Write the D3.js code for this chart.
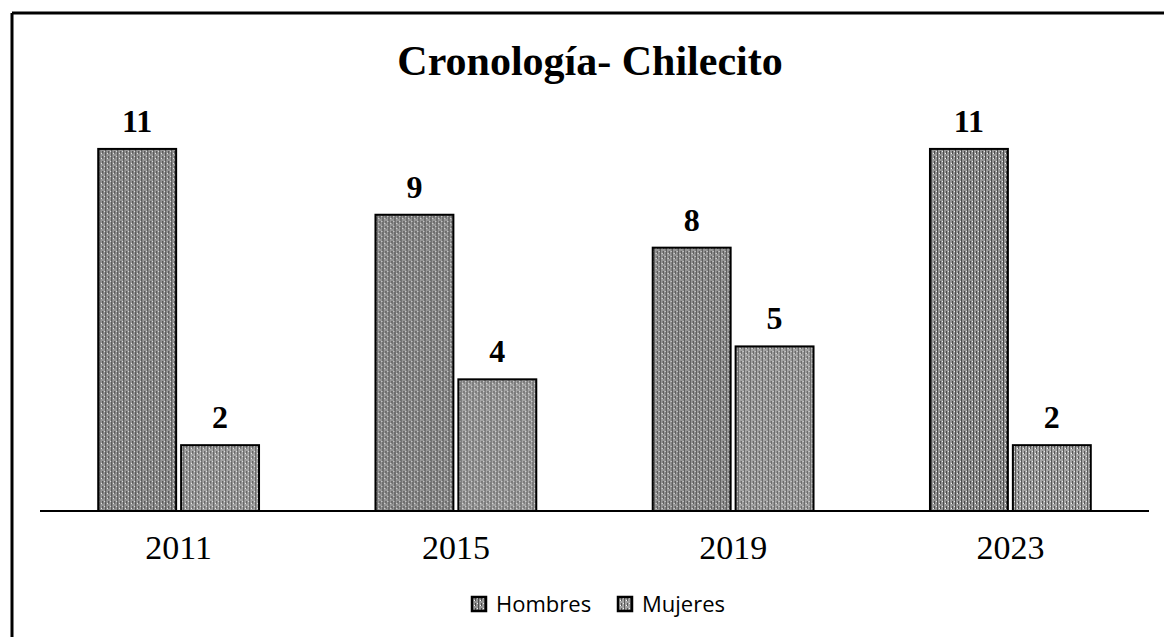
<!DOCTYPE html>
<html>
<head>
<meta charset="utf-8">
<script src="https://cdn.jsdelivr.net/npm/d3@7"></script>
<style>
  body { margin: 0; background: #fff; }
</style>
</head>
<body>
<svg id="chart" width="1164" height="637"></svg>
<script>
// data
const years = ["2011", "2015", "2019", "2023"];
const seriesNames = ["Hombres", "Mujeres"];
const hombres = [11, 9, 8, 11];
const mujeres = [2, 4, 5, 2];
const chartTitle = "Cronología- Chilecito";

const width = 1164, height = 637;
const margin = {top: 116, right: 15, bottom: 126, left: 40};

const svg = d3.select("#chart");

// halftone-ish fill like the scanned original
const defs = svg.append("defs");
function makePattern(id, base, dark) {
  const p = defs.append("pattern")
    .attr("id", id)
    .attr("patternUnits", "userSpaceOnUse")
    .attr("width", 6).attr("height", 5);
  p.append("rect").attr("width", 6).attr("height", 5).attr("fill", base);
  p.append("rect").attr("x", 1).attr("width", 1).attr("height", 5).attr("fill", dark);
  p.append("rect").attr("x", 4).attr("y", 1).attr("width", 1).attr("height", 3).attr("fill", dark);
  p.append("rect").attr("x", 3).attr("y", 3).attr("width", 1).attr("height", 1).attr("fill", "#fff");
  p.append("rect").attr("x", 0).attr("y", 1).attr("width", 1).attr("height", 1).attr("fill", "#eee");
}
makePattern("patH", "#959595", "#4a4a4a");
makePattern("patM", "#a3a3a3", "#575757");

// frame of the scanned page
svg.append("line").attr("x1", 12).attr("x2", width).attr("y1", 13).attr("y2", 13)
  .attr("stroke", "#000").attr("stroke-width", 3);
svg.append("line").attr("x1", 12).attr("x2", 12).attr("y1", 13).attr("y2", height)
  .attr("stroke", "#000").attr("stroke-width", 3);

const x0 = d3.scaleBand()
  .domain(years)
  .range([margin.left, width - margin.right])
  .paddingInner(0.42)
  .paddingOuter(0.21);

const x1 = d3.scaleBand()
  .domain(seriesNames)
  .range([0, x0.bandwidth()])
  .paddingInner(0.06);

const y = d3.scaleLinear()
  .domain([0, 12])
  .range([height - margin.bottom, margin.top]);

// title
svg.append("text")
  .attr("x", 590).attr("y", 75)
  .attr("text-anchor", "middle")
  .attr("font-family", "Liberation Serif, Times New Roman, serif")
  .attr("font-weight", "bold")
  .attr("font-size", 42)
  .text(chartTitle);

const rows = years.map((yr, i) => ({year: yr, values: [
  {name: "Hombres", value: hombres[i], fill: "url(#patH)"},
  {name: "Mujeres", value: mujeres[i], fill: "url(#patM)"}
]}));

const groups = svg.append("g").selectAll("g")
  .data(rows)
  .join("g")
  .attr("transform", d => `translate(${x0(d.year)},0)`);

groups.selectAll("rect")
  .data(d => d.values)
  .join("rect")
  .attr("x", d => x1(d.name))
  .attr("y", d => y(d.value))
  .attr("width", x1.bandwidth())
  .attr("height", d => y(0) - y(d.value))
  .attr("fill", d => d.fill)
  .attr("stroke", "#000")
  .attr("stroke-width", 2);

groups.selectAll("text")
  .data(d => d.values)
  .join("text")
  .attr("x", d => x1(d.name) + x1.bandwidth() / 2)
  .attr("y", d => y(d.value) - 17)
  .attr("text-anchor", "middle")
  .attr("font-family", "Liberation Serif, Times New Roman, serif")
  .attr("font-weight", "bold")
  .attr("font-size", 32)
  .text(d => d.value);

// category axis
const xAxis = svg.append("g")
  .attr("transform", `translate(0,${y(0)})`)
  .call(d3.axisBottom(x0).tickSize(0).tickPadding(24));
xAxis.select(".domain")
  .attr("d", `M${margin.left},0H${width - margin.right}`)
  .attr("stroke", "#000").attr("stroke-width", 2);
xAxis.selectAll(".tick text")
  .attr("font-family", "Liberation Serif, Times New Roman, serif")
  .attr("font-size", 34)
  .attr("fill", "#000");

// legend
const legend = svg.append("g").attr("transform", "translate(471,612)");
const legendItems = [
  {name: seriesNames[0], fill: "url(#patH)", x: 0},
  {name: seriesNames[1], fill: "url(#patM)", x: 146}
];
const li = legend.selectAll("g").data(legendItems).join("g")
  .attr("transform", d => `translate(${d.x},0)`);
li.append("rect")
  .attr("x", 1).attr("y", -15).attr("width", 14).attr("height", 14)
  .attr("fill", d => d.fill).attr("stroke", "#000").attr("stroke-width", 2.5);
li.append("text")
  .attr("x", 25).attr("y", 0)
  .attr("font-family", "Open Sans, DejaVu Sans, sans-serif")
  .attr("font-size", 22)
  .text(d => d.name);
</script>
</body>
</html>
